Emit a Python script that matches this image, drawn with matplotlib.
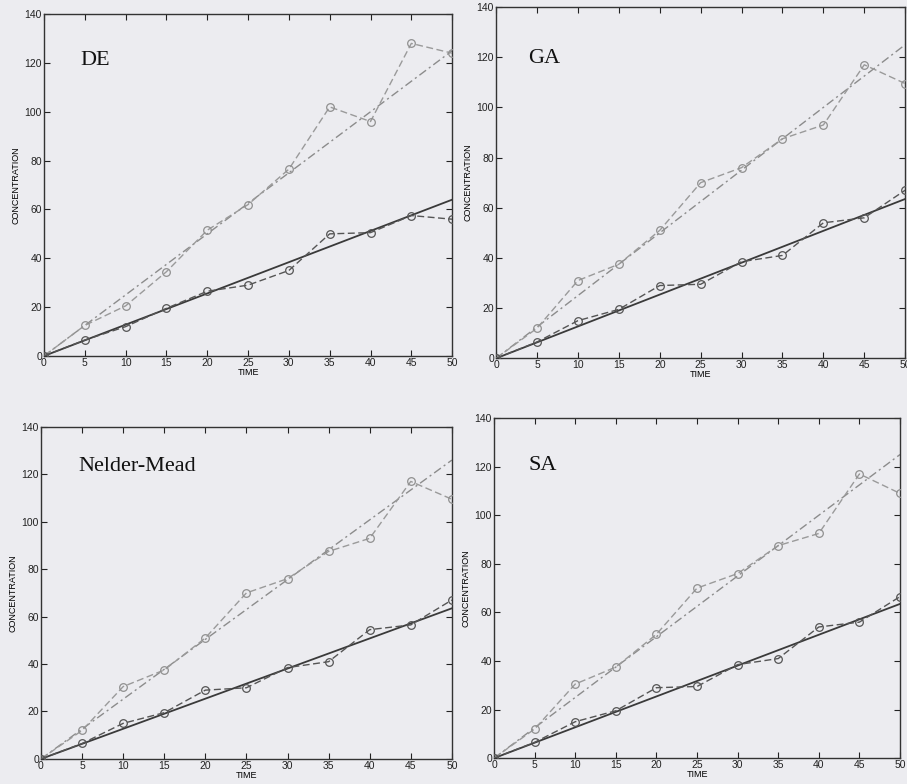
import matplotlib
matplotlib.use("Agg")
import matplotlib.pyplot as plt
import numpy as np

time = [0, 5, 10, 15, 20, 25, 30, 35, 40, 45, 50]
model_x = [0, 50]

titles = ["DE", "GA", "Nelder-Mead", "SA"]

de_upper = [0, 12.5, 20.5, 34.5, 51.5, 62, 76.5, 102, 96, 128, 124]
de_lower = [0, 6.5, 12, 19.5, 26.5, 29, 35, 50, 50.5, 57.5, 56]
de_model_upper = [0, 125]
de_model_lower = [0, 64]

ga_upper = [0, 12, 31, 37.5, 51, 70, 76, 87.5, 93, 117, 109.5]
ga_lower = [0, 6.5, 15, 19.5, 29, 29.5, 38.5, 41, 54, 56, 67]
ga_model_upper = [0, 125]
ga_model_lower = [0, 63.5]

nm_upper = [0, 12, 30.5, 37.5, 51, 70, 76, 87.5, 93, 117, 109.5]
nm_lower = [0, 6.5, 15, 19.5, 29, 30, 38.5, 41, 54.5, 56.5, 67]
nm_model_upper = [0, 126]
nm_model_lower = [0, 63.5]

sa_upper = [0, 12, 30.5, 37.5, 51, 70, 76, 87.5, 92.5, 117, 109]
sa_lower = [0, 6.5, 15, 19.5, 29, 29.5, 38.5, 41, 54, 56, 66.5]
sa_model_upper = [0, 125]
sa_model_lower = [0, 63.5]

xticks = [0, 5, 10, 15, 20, 25, 30, 35, 40, 45, 50]
yticks = [0, 20, 40, 60, 80, 100, 120, 140]

panels = [
    (titles[0], de_upper, de_lower, de_model_upper, de_model_lower),
    (titles[1], ga_upper, ga_lower, ga_model_upper, ga_model_lower),
    (titles[2], nm_upper, nm_lower, nm_model_upper, nm_model_lower),
    (titles[3], sa_upper, sa_lower, sa_model_upper, sa_model_lower),
]

positions = [
    [0.0485, 0.546, 0.450, 0.436],
    [0.547, 0.543, 0.451, 0.448],
    [0.0452, 0.032, 0.453, 0.4235],
    [0.5447, 0.033, 0.4476, 0.4337],
]
title_pos = [(4.4, 121), (3.9, 119.5), (4.5, 123.5), (4.2, 120.5)]

bg = "#ececf0"
fig = plt.figure(figsize=(9.07, 7.84), dpi=100, facecolor=bg)

for (name, up, lo, mu, ml), pos, tp in zip(panels, positions, title_pos):
    ax = fig.add_axes(pos, facecolor=bg)
    ax.plot(model_x, mu, color="#8c8c8c", lw=1.0, dashes=(6, 2.5, 1.5, 2.5), zorder=2)
    ax.plot(model_x, ml, color="#3a3a3a", lw=1.3, ls="-", zorder=2)
    ax.plot(time, up, color="#9a9a9a", lw=1.0, dashes=(5, 2.5), marker="o",
            markersize=5.5, markerfacecolor="none", markeredgecolor="#909090",
            markeredgewidth=0.9, zorder=3)
    ax.plot(time, lo, color="#555555", lw=1.0, dashes=(5, 2.5), marker="o",
            markersize=5.5, markerfacecolor="none", markeredgecolor="#555555",
            markeredgewidth=0.9, zorder=3)
    ax.set_xlim(0, 50)
    ax.set_ylim(0, 140)
    ax.set_xticks(xticks)
    ax.set_yticks(yticks)
    ax.tick_params(direction="in", top=True, right=True, length=4,
                   width=0.8, labelsize=7.5, pad=1.5, colors="#222222")
    for lab in ax.get_xticklabels() + ax.get_yticklabels():
        lab.set_family("Liberation Sans")
    for s in ax.spines.values():
        s.set_color("#333333")
        s.set_linewidth(1.0)
    ax.set_xlabel("TIME", fontsize=6.5, family="Liberation Sans", labelpad=0)
    ax.set_ylabel("CONCENTRATION", fontsize=6.5, family="Liberation Sans", labelpad=3)
    ax.text(tp[0], tp[1], name, fontsize=16, family="Liberation Serif",
            color="#111111", va="center", ha="left")

fig.savefig("out.png", dpi=100, facecolor=bg)
